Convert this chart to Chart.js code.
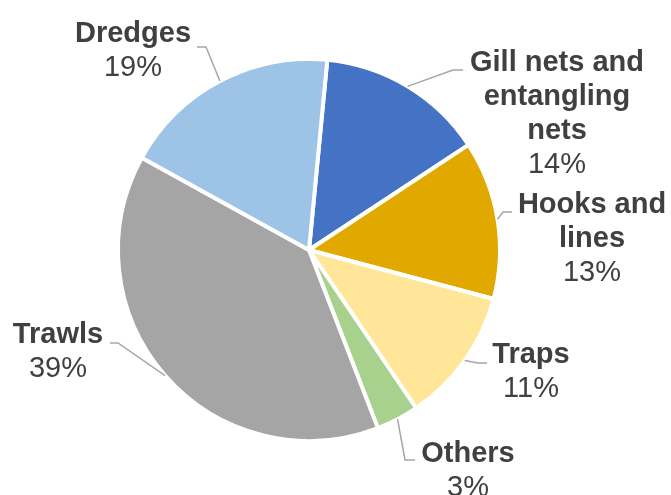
<!DOCTYPE html>
<html>
<head>
<meta charset="utf-8">
<script src="https://cdn.jsdelivr.net/npm/chart.js@4"></script>
<style>
html,body{margin:0;padding:0;background:#fff;}
#wrap{width:671px;height:495px;position:relative;}
</style>
</head>
<body>
<div id="wrap"><canvas id="c" width="671" height="495"></canvas></div>
<script>
// ---- data ----
const categories = ['Gill nets and entangling nets', 'Hooks and lines', 'Traps', 'Others', 'Trawls', 'Dredges'];
const shares = [14.2, 13.4, 11.4, 3.6, 38.9, 18.5];
const percentLabels = ['14%', '13%', '11%', '3%', '39%', '19%'];
const sliceColors = ['#4472C4', '#E1A900', '#FFE699', '#A9D18E', '#A5A5A5', '#9DC3E6'];

// ---- label layout (text centre x, first baseline y, leader elbow/end) ----
const labelLayout = [
  {x: 557, y: 71,  elbow: [453, 70],  end: [463, 70]},
  {x: 592, y: 213, elbow: [503, 212], end: [512, 212]},
  {x: 531, y: 363, elbow: [478, 363], end: [487, 363]},
  {x: 468, y: 462, elbow: [405, 460], end: [415, 460]},
  {x: 58,  y: 343, elbow: [118, 343], end: [110, 343]},
  {x: 133, y: 42,  elbow: [206, 47],  end: [197, 47]}
];
const FONT = '"Liberation Sans", Arial, sans-serif';
const FS = 29, LH = 34, MAXW = 195;

function wrap(ctx, text) {
  const words = text.split(' ');
  const lines = [];
  let cur = '';
  for (const w of words) {
    const t = cur ? cur + ' ' + w : w;
    if (cur && ctx.measureText(t).width > MAXW) { lines.push(cur); cur = w; }
    else cur = t;
  }
  if (cur) lines.push(cur);
  return lines;
}

const outsideLabels = {
  id: 'outsideLabels',
  afterDraw(chart) {
    const ctx = chart.ctx;
    const meta = chart.getDatasetMeta(0);
    ctx.save();
    meta.data.forEach((arc, i) => {
      const L = labelLayout[i];
      const p = arc.getProps(['x', 'y', 'startAngle', 'endAngle', 'outerRadius'], true);
      const a = (p.startAngle + p.endAngle) / 2;
      const sx = p.x + Math.cos(a) * p.outerRadius;
      const sy = p.y + Math.sin(a) * p.outerRadius;
      ctx.strokeStyle = '#A6A6A6';
      ctx.lineWidth = 1.5;
      ctx.beginPath();
      ctx.moveTo(sx, sy);
      ctx.lineTo(L.elbow[0], L.elbow[1]);
      ctx.lineTo(L.end[0], L.end[1]);
      ctx.stroke();

      ctx.fillStyle = '#404040';
      ctx.textAlign = 'center';
      ctx.textBaseline = 'alphabetic';
      ctx.font = 'bold ' + FS + 'px ' + FONT;
      const lines = wrap(ctx, chart.data.labels[i]);
      let y = L.y;
      lines.forEach(ln => { ctx.fillText(ln, L.x, y); y += LH; });
      ctx.font = FS + 'px ' + FONT;
      ctx.fillText(percentLabels[i], L.x, y);
    });
    ctx.restore();
  }
};

new Chart(document.getElementById('c'), {
  type: 'pie',
  data: {
    labels: categories,
    datasets: [{
      data: shares,
      backgroundColor: sliceColors,
      borderColor: '#FFFFFF',
      borderWidth: 4
    }]
  },
  options: {
    responsive: false,
    animation: false,
    rotation: 5.5,
    layout: {padding: {top: 57, bottom: 52, left: 0, right: 53}},
    plugins: {legend: {display: false}, tooltip: {enabled: false}}
  },
  plugins: [outsideLabels]
});
</script>
</body>
</html>
